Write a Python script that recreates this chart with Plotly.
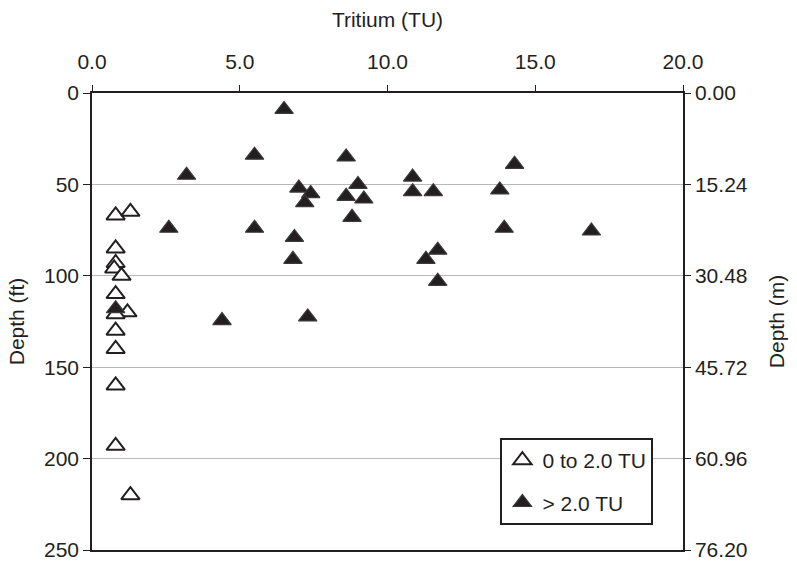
import plotly.graph_objects as go

# ---- data ----
low_tritium_tu = [0.8, 1.3, 0.8, 0.8, 0.75, 1.0, 0.8, 1.2, 0.8, 0.8, 0.8, 0.8, 0.8, 1.3]
low_depth_ft = [67, 65, 85, 93, 96, 100, 110, 120, 121, 130, 140, 160, 193, 220]

high_tritium_tu = [6.5, 5.5, 8.6, 3.2, 7.0, 7.4, 7.2, 9.0, 8.6, 9.2, 8.8, 2.6, 5.5, 6.85,
                   6.8, 4.4, 7.3, 14.3, 10.85, 10.85, 11.55, 13.8, 13.95, 16.9, 11.7,
                   11.3, 11.7, 0.8]
high_depth_ft = [9, 34, 35, 45, 52, 55, 60, 50, 56.5, 58, 68, 74, 74, 79,
                 91, 124.5, 122.5, 39, 46, 54, 54, 53, 74, 75.5, 86,
                 91, 103, 118]

x_ticks = [0, 5, 10, 15, 20]
ft_ticks = [0, 50, 100, 150, 200, 250]
m_ticks = [0.00, 15.24, 30.48, 45.72, 60.96, 76.20]
m_tick_labels = ["0.00", "15.24", "30.48", "45.72", "60.96", "76.20"]

INK = "#231f20"
FONT = "Liberation Sans, Arial, sans-serif"
FS = 21

fig = go.Figure()
fig.add_trace(go.Scatter(
    x=low_tritium_tu, y=low_depth_ft, mode="markers", name="0 to 2.0 TU",
    legendgroup="a",
    marker=dict(symbol="triangle-up", size=16, color="white",
                line=dict(color=INK, width=2)),
))
fig.add_trace(go.Scatter(
    x=high_tritium_tu, y=high_depth_ft, mode="markers", name="> 2.0 TU",
    legendgroup="b",
    marker=dict(symbol="triangle-up", size=16, color=INK,
                line=dict(color="#3a3a3a", width=1.2)),
))
# empty trace so the metre axis on the right is drawn
fig.add_trace(go.Scatter(x=[], y=[], yaxis="y2", showlegend=False,
                         hoverinfo="skip", mode="markers"))

fig.update_layout(
    width=797, height=573,
    margin=dict(l=92, r=110, t=93, b=14),
    paper_bgcolor="white", plot_bgcolor="white",
    font=dict(family=FONT, size=FS, color=INK),
    showlegend=True,
    legend=dict(
        x=0.691, y=0.245, xanchor="left", yanchor="top",
        bgcolor="white", bordercolor=INK, borderwidth=2,
        font=dict(family=FONT, size=FS, color=INK),
        tracegroupgap=12,
    ),
    xaxis=dict(
        side="top", range=[0, 20], tickvals=x_ticks, tickformat=".1f",
        ticks="outside", ticklen=6, tickwidth=1.2, tickcolor=INK,
        ticklabelstandoff=8,
        showline=True, linecolor=INK, linewidth=1.5, mirror=True,
        showgrid=False, zeroline=False,
        title=dict(text="Tritium (TU)", font=dict(size=FS), standoff=16),
    ),
    yaxis=dict(
        range=[250, 0], tickvals=ft_ticks,
        ticks="outside", ticklen=7, tickwidth=1.2, tickcolor=INK,
        showline=True, linecolor=INK, linewidth=1.5,
        showgrid=True, gridcolor="#b8b8b8", gridwidth=1.3, zeroline=False,
        title=dict(text="Depth (ft)", font=dict(size=FS), standoff=14),
    ),
    yaxis2=dict(
        overlaying="y", side="right", anchor="x",
        range=[76.2, 0], tickvals=m_ticks, ticktext=m_tick_labels,
        ticks="outside", ticklen=6, tickwidth=1.2, tickcolor=INK,
        showline=True, linecolor=INK, linewidth=1.5,
        showgrid=False, zeroline=False,
        title=dict(text="Depth (m)", font=dict(size=FS), standoff=22),
    ),
)

fig.write_html("out.html")
